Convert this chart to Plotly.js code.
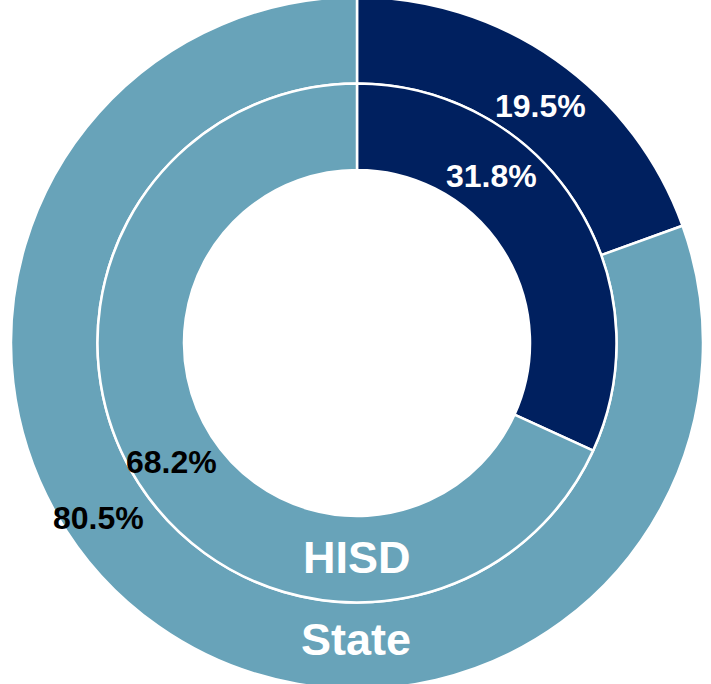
<!DOCTYPE html>
<html>
<head>
<meta charset="utf-8">
<script src="https://cdn.plot.ly/plotly-3.0.1.min.js"></script>
<style>
  html, body { margin: 0; padding: 0; background: #ffffff; overflow: hidden; }
  #chart { position: absolute; left: 0; top: -3px; width: 714px; height: 692px; }
</style>
</head>
<body>
<div id="chart"></div>
<script>
// ---- data ----
const categories = ['Group', 'Others'];
const stateValues = [19.5, 80.5];
const hisdValues = [31.8, 68.2];
const ringNames = ['State', 'HISD'];

// ---- styles ----
const sliceColors = ['#00205F', '#68A3B9'];
const labelColors = ['#ffffff', '#000000'];
const W = 714, H = 692;
const FONT = 'Liberation Sans, Arial, sans-serif';

function px(x, y) { return { x: x / W, y: 1 - (y + 3) / H }; }

const outer = {
  type: 'pie', labels: categories, values: stateValues, name: ringNames[0],
  sort: false, direction: 'clockwise', rotation: 0, hole: 0.75,
  domain: { x: [0, 1], y: [0, 1] },
  marker: { colors: sliceColors, line: { color: '#ffffff', width: 2.5 } },
  textinfo: 'none', hoverinfo: 'label+value', showlegend: false
};
const inner = {
  type: 'pie', labels: categories, values: hisdValues, name: ringNames[1],
  sort: false, direction: 'clockwise', rotation: 0, hole: 0.6667,
  domain: { x: [0.125, 0.875], y: [0.125, 0.875] },
  marker: { colors: sliceColors, line: { color: '#ffffff', width: 2.5 } },
  textinfo: 'none', hoverinfo: 'label+value', showlegend: false
};

// label anchor positions (pixels in the window)
const stateLabelPos = [[540, 106], [98, 518]];
const hisdLabelPos = [[491, 176], [171, 462]];
const ringNamePos = [[356, 639], [357, 557]];

const annotations = [];
stateValues.forEach((v, i) => {
  const p = px(stateLabelPos[i][0], stateLabelPos[i][1]);
  annotations.push({ xref: 'paper', yref: 'paper', x: p.x, y: p.y, xanchor: 'center', yanchor: 'middle',
    showarrow: false, text: '<b>' + v.toFixed(1) + '%</b>', font: { family: FONT, size: 32, color: labelColors[i] } });
});
hisdValues.forEach((v, i) => {
  const p = px(hisdLabelPos[i][0], hisdLabelPos[i][1]);
  annotations.push({ xref: 'paper', yref: 'paper', x: p.x, y: p.y, xanchor: 'center', yanchor: 'middle',
    showarrow: false, text: '<b>' + v.toFixed(1) + '%</b>', font: { family: FONT, size: 32, color: labelColors[i] } });
});
ringNames.forEach((n, i) => {
  const p = px(ringNamePos[i][0], ringNamePos[i][1]);
  annotations.push({ xref: 'paper', yref: 'paper', x: p.x, y: p.y, xanchor: 'center', yanchor: 'middle',
    showarrow: false, text: '<b>' + n + '</b>', font: { family: FONT, size: 45, color: '#ffffff' } });
});

const layout = {
  width: W, height: H,
  margin: { l: 0, r: 0, t: 0, b: 0 },
  paper_bgcolor: '#ffffff', plot_bgcolor: '#ffffff',
  showlegend: false,
  annotations: annotations
};

Plotly.newPlot('chart', [outer, inner], layout, { displayModeBar: false, staticPlot: true });
</script>
</body>
</html>
